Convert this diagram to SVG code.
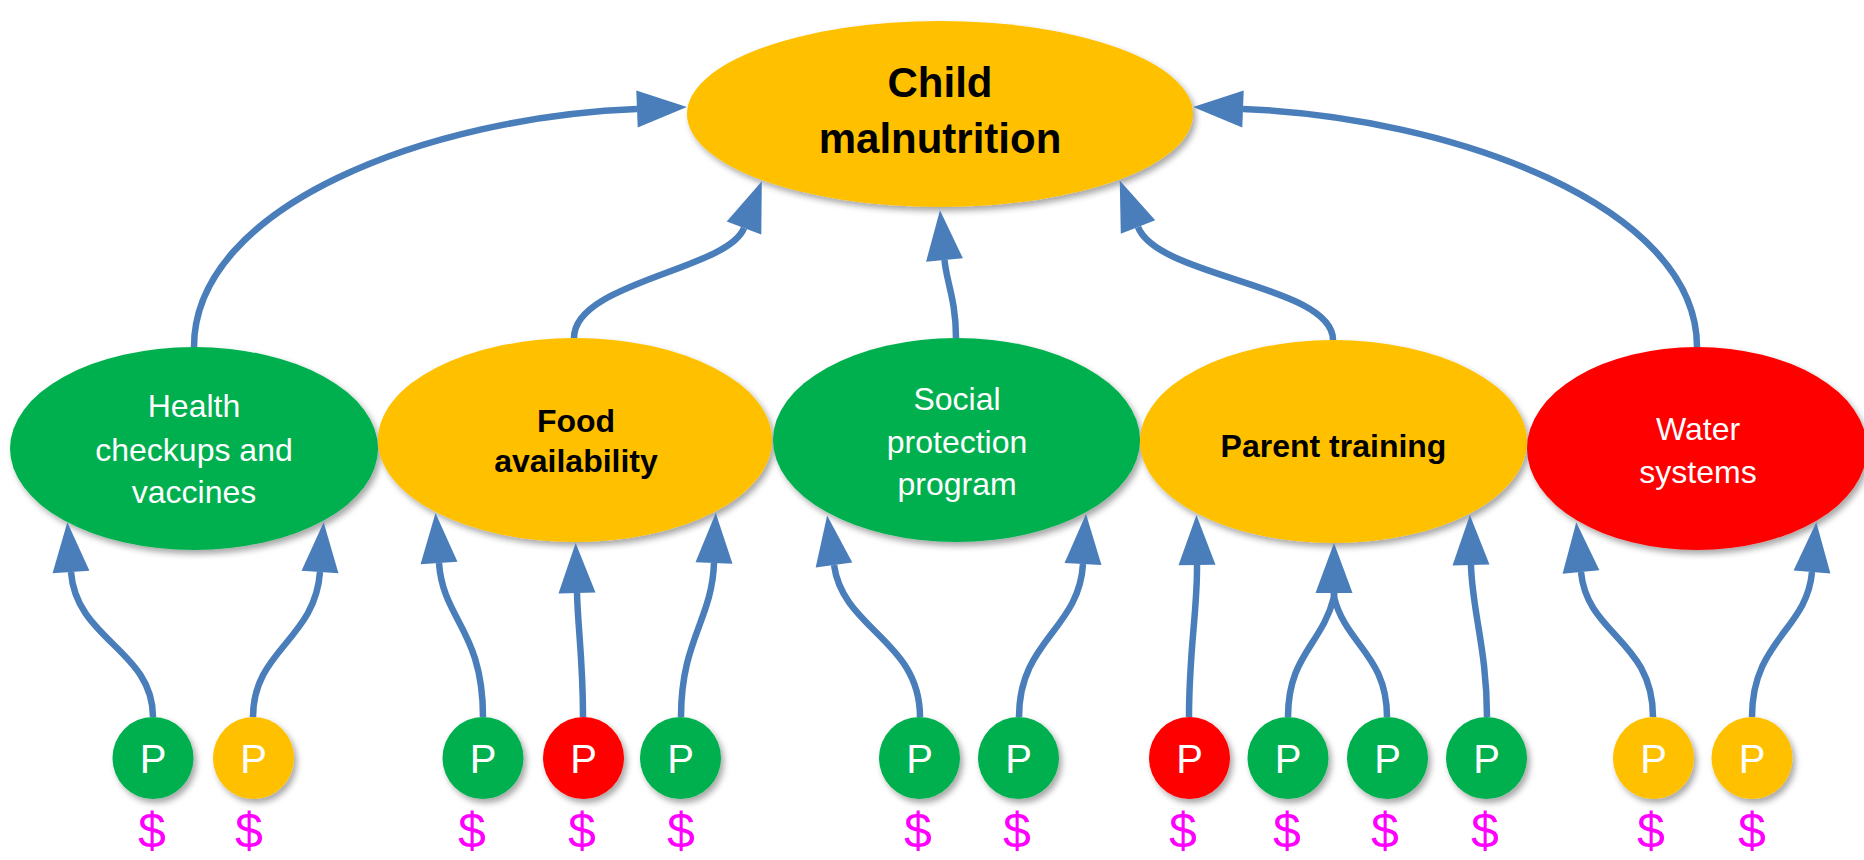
<svg xmlns="http://www.w3.org/2000/svg" width="1864" height="860" viewBox="0 0 1864 860">
  <style>
    .green { fill: #00B050; }
    .amber { fill: #FFC000; }
    .red { fill: #FF0000; }
    .node { filter: url(#shadow); }
    .lbl { font-family: "Liberation Sans", Arial, sans-serif; font-size: 32px; text-anchor: middle; }
    .lbl-w { fill: #FFFFFF; }
    .lbl-b { fill: #000000; font-weight: bold; }
    .title { font-family: "Liberation Sans", Arial, sans-serif; font-size: 42px; font-weight: bold; text-anchor: middle; fill: #000000; }
    .ptxt { font-family: "Liberation Sans", Arial, sans-serif; font-size: 40px; text-anchor: middle; fill: #FFFFFF; }
    .cost { font-family: "Liberation Sans", Arial, sans-serif; font-size: 50px; text-anchor: middle; fill: #FF00FF; }
    .conn { fill: none; stroke: #4A7EBB; stroke-width: 6.5; marker-end: url(#arrow); }
    .conn.plain { marker-end: none; }
  </style>
  <defs>
    <filter id="shadow" x="-10%" y="-10%" width="125%" height="130%">
      <feDropShadow dx="3" dy="4" stdDeviation="3" flood-color="#000000" flood-opacity="0.35"/>
    </filter>
    <marker id="arrow" markerUnits="userSpaceOnUse" markerWidth="50" markerHeight="37" refX="0" refY="18.5" orient="auto" overflow="visible">
      <path d="M0,0 L50,18.5 L0,37 Z" fill="#4A7EBB"/>
    </marker>
  </defs>

  <!-- outcome -->
  <g id="child-malnutrition">
    <ellipse class="node amber" cx="940" cy="114" rx="253" ry="93"/>
    <text class="title" x="940" y="97">Child</text>
    <text class="title" x="940" y="153">malnutrition</text>
  </g>

  <!-- intermediate factors -->
  <g id="health-checkups">
    <ellipse class="node green" cx="194" cy="448.5" rx="184" ry="101.5"/>
    <text class="lbl lbl-w" x="194" y="417">Health</text>
    <text class="lbl lbl-w" x="194" y="461">checkups and</text>
    <text class="lbl lbl-w" x="194" y="503">vaccines</text>
  </g>
  <g id="food-availability">
    <ellipse class="node amber" cx="575" cy="440" rx="197" ry="102"/>
    <text class="lbl lbl-b" x="576" y="432">Food</text>
    <text class="lbl lbl-b" x="576" y="472">availability</text>
  </g>
  <g id="social-protection">
    <ellipse class="node green" cx="956.5" cy="440" rx="183.5" ry="102"/>
    <text class="lbl lbl-w" x="957" y="410">Social</text>
    <text class="lbl lbl-w" x="957" y="453">protection</text>
    <text class="lbl lbl-w" x="957" y="495">program</text>
  </g>
  <g id="parent-training">
    <ellipse class="node amber" cx="1333.5" cy="441.5" rx="193.5" ry="101.5"/>
    <text class="lbl lbl-b" x="1333.5" y="457">Parent training</text>
  </g>
  <g id="water-systems">
    <ellipse class="node red" cx="1697" cy="448.5" rx="170" ry="101.5"/>
    <text class="lbl lbl-w" x="1698" y="440">Water</text>
    <text class="lbl lbl-w" x="1698" y="483">systems</text>
  </g>

  <!-- programs, each with its cost sign -->
  <g id="p1"><ellipse class="node green" cx="153" cy="758" rx="40.5" ry="41"/><text class="ptxt" x="153" y="773">P</text><text class="cost" x="152" y="848">$</text></g>
  <g id="p2"><ellipse class="node amber" cx="253.5" cy="758" rx="40.5" ry="41"/><text class="ptxt" x="253.5" y="773">P</text><text class="cost" x="249" y="848">$</text></g>
  <g id="p3"><ellipse class="node green" cx="483" cy="758" rx="40.5" ry="41"/><text class="ptxt" x="483" y="773">P</text><text class="cost" x="472" y="848">$</text></g>
  <g id="p4"><ellipse class="node red" cx="583.5" cy="758" rx="40.5" ry="41"/><text class="ptxt" x="583.5" y="773">P</text><text class="cost" x="582" y="848">$</text></g>
  <g id="p5"><ellipse class="node green" cx="680.5" cy="758" rx="40.5" ry="41"/><text class="ptxt" x="680.5" y="773">P</text><text class="cost" x="681" y="848">$</text></g>
  <g id="p6"><ellipse class="node green" cx="919.5" cy="758" rx="40.5" ry="41"/><text class="ptxt" x="919.5" y="773">P</text><text class="cost" x="918" y="848">$</text></g>
  <g id="p7"><ellipse class="node green" cx="1018.5" cy="758" rx="40.5" ry="41"/><text class="ptxt" x="1018.5" y="773">P</text><text class="cost" x="1017" y="848">$</text></g>
  <g id="p8"><ellipse class="node red" cx="1189.5" cy="758" rx="40.5" ry="41"/><text class="ptxt" x="1189.5" y="773">P</text><text class="cost" x="1183" y="848">$</text></g>
  <g id="p9"><ellipse class="node green" cx="1288" cy="758" rx="40.5" ry="41"/><text class="ptxt" x="1288" y="773">P</text><text class="cost" x="1287" y="848">$</text></g>
  <g id="p10"><ellipse class="node green" cx="1387.5" cy="758" rx="40.5" ry="41"/><text class="ptxt" x="1387.5" y="773">P</text><text class="cost" x="1385" y="848">$</text></g>
  <g id="p11"><ellipse class="node green" cx="1486.5" cy="758" rx="40.5" ry="41"/><text class="ptxt" x="1486.5" y="773">P</text><text class="cost" x="1485" y="848">$</text></g>
  <g id="p12"><ellipse class="node amber" cx="1653.5" cy="758" rx="40.5" ry="41"/><text class="ptxt" x="1653.5" y="773">P</text><text class="cost" x="1651" y="848">$</text></g>
  <g id="p13"><ellipse class="node amber" cx="1752" cy="758" rx="40.5" ry="41"/><text class="ptxt" x="1752" y="773">P</text><text class="cost" x="1752" y="848">$</text></g>

  <!-- connectors: each path ends at the arrowhead base -->
  <g id="connectors">
    <path class="conn" d="M194,347 C194,205 430,117 637,109"/>
    <path class="conn" d="M574,338 C574,282 728,270 744,228"/>
    <path class="conn" d="M956,338 C956,300 946.5,282 944.5,260"/>
    <path class="conn" d="M1333,340 C1333,285 1158,278 1138,227"/>
    <path class="conn" d="M1697,347 C1697,205 1450,117 1243,109"/>

    <path class="conn" d="M153,717 C153,650 76,640 71,572"/>
    <path class="conn" d="M253,717 C253,650 315,640 320,572"/>
    <path class="conn" d="M483,717 C483,630 443,620 439,563"/>
    <path class="conn" d="M583,717 C583,660 578,630 577,593"/>
    <path class="conn" d="M681,717 C681,640 712,620 714,563"/>
    <path class="conn" d="M920,717 C920,640 843,630 834,565"/>
    <path class="conn" d="M1019,717 C1019,640 1079,630 1083,564"/>
    <path class="conn" d="M1189,717 C1189,650 1197.5,610 1197,565"/>
    <path class="conn" d="M1288,717 C1288,655 1322,645 1334,597 L1334,593"/>
    <path class="conn plain" d="M1387,717 C1387,655 1346,645 1334,597 L1334,593"/>
    <path class="conn" d="M1487,717 C1487,650 1472,610 1471,565"/>
    <path class="conn" d="M1653,717 C1653,640 1587,635 1581,572"/>
    <path class="conn" d="M1752,717 C1752,640 1807,630 1812,572"/>
  </g>
</svg>
